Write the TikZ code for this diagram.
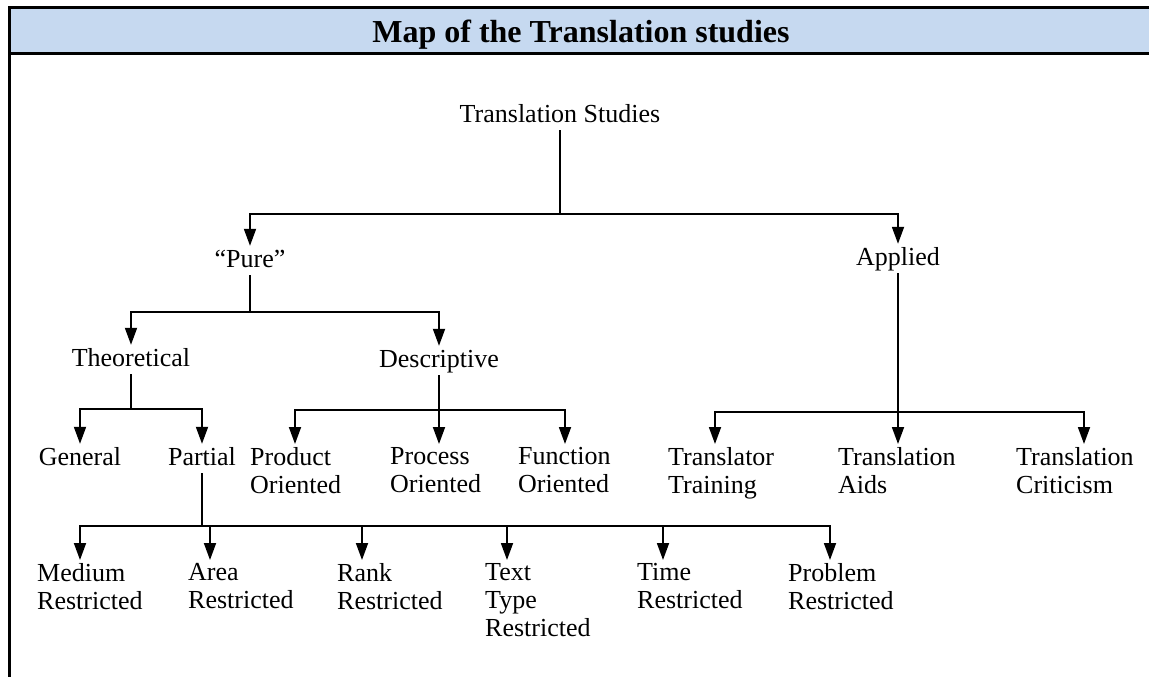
\documentclass[tikz,border=0pt]{standalone}
\usepackage{fontspec}
\setmainfont{Liberation Serif}
\usepackage{xcolor}
\usepackage{tikz}
\usetikzlibrary{arrows.meta,positioning}
\definecolor{headblue}{RGB}{198,217,240}

\begin{document}
\begin{tikzpicture}[x=1pt, y=-1pt,
  term/.style={inner sep=3pt, text height=18pt, text depth=5pt, font=\fontsize{26}{28}\selectfont},
  leaf/.style={inner sep=3pt, anchor=north west, align=left, font=\fontsize{26}{28}\selectfont, execute at begin node=\strut},
  link/.style={line width=1.8pt},
  arrow/.style={line width=1.8pt, -{Triangle[length=17pt, width=12pt]}},
  title/.style={font=\bfseries\fontsize{32}{36}\selectfont, anchor=base},
]
\useasboundingbox (0,0) rectangle (1149,677);
\fill[headblue] (9,8) rectangle (1149,53);
\draw[line width=3pt] (8,8) -- (1149,8);
\draw[line width=3pt] (8,53.5) -- (1149,53.5);
\draw[line width=3pt] (9.5,6.5) -- (9.5,677);
\node[title] (head) at (581,43) {Map of the Translation studies};

\node[term, anchor=base] (ts) at (560,122) {Translation Studies};
\node[term, anchor=base] (pure) at (250,267) {``Pure''};
\node[term, anchor=base] (applied) at (898,265) {Applied};
\node[term, anchor=base] (theo) at (131,366) {Theoretical};
\node[term, anchor=base] (desc) at (439,367) {Descriptive};
\node[term, anchor=base] (general) at (80,465) {General};
\node[term, anchor=base] (partial) at (202,465) {Partial};

\node[leaf] (product) at (247,444) {Product\\Oriented};
\node[leaf] (process) at (387,444) {Process\\Oriented};
\node[leaf] (function) at (515,444) {Function\\Oriented};
\node[leaf] (training) at (665,444) {Translator\\Training};
\node[leaf] (aids) at (835,444) {Translation\\Aids};
\node[leaf] (criticism) at (1013,444) {Translation\\Criticism};

\node[leaf] (medium) at (34,560) {Medium\\Restricted};
\node[leaf] (area) at (185,560) {Area\\Restricted};
\node[leaf] (rank) at (334,560) {Rank\\Restricted};
\node[leaf] (texttype) at (482,560) {Text\\Type\\Restricted};
\node[leaf] (time) at (634,560) {Time\\Restricted};
\node[leaf] (problem) at (785,560) {Problem\\Restricted};

\draw[link] (ts.south) -- ++(0,84) coordinate (tsj);
\draw[arrow] (tsj) -| (pure.north);
\draw[arrow] (tsj) -| (applied.north);

\draw[link] (pure.south) -- ++(0,37) coordinate (pj);
\draw[arrow] (pj) -| (theo.north);
\draw[arrow] (pj) -| (desc.north);

\draw[link] (theo.south) -- ++(0,35) coordinate (thj);
\draw[arrow] (thj) -| (general.north);
\draw[arrow] (thj) -| (partial.north);

\draw[link] (desc.south) -- ++(0,35) coordinate (dj);
\draw[arrow] (dj) -| ([xshift=48pt]product.north west);
\draw[arrow] (dj) -- ([xshift=52pt]process.north west);
\draw[arrow] (dj) -| ([xshift=50pt]function.north west);

\draw[link] (applied.south) -- ++(0,139) coordinate (aj);
\draw[arrow] (aj) -| ([xshift=50pt]training.north west);
\draw[arrow] (aj) -- ([xshift=63pt]aids.north west);
\draw[arrow] (aj) -| ([xshift=71pt]criticism.north west);

\draw[link] (partial.south) -- ++(0,53) coordinate (paj);
\draw[arrow] (paj) -| ([xshift=46pt]medium.north west);
\draw[arrow] (paj) -| ([xshift=25pt]area.north west);
\draw[arrow] (paj) -| ([xshift=28pt]rank.north west);
\draw[arrow] (paj) -| ([xshift=25pt]texttype.north west);
\draw[arrow] (paj) -| ([xshift=29pt]time.north west);
\draw[arrow] (paj) -| ([xshift=45pt]problem.north west);
\end{tikzpicture}
\end{document}
